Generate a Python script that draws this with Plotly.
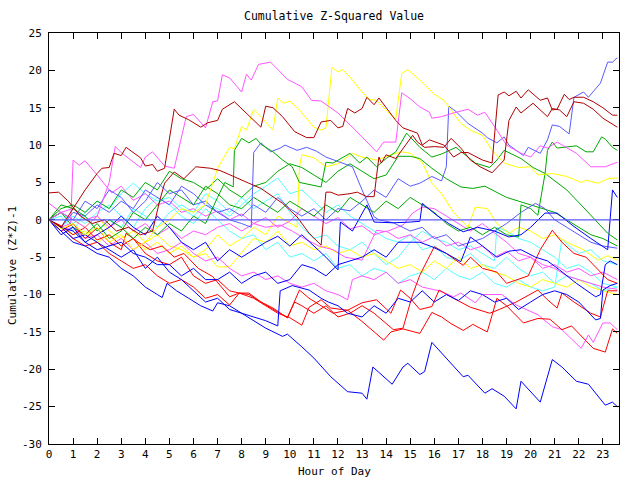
import plotly.graph_objects as go

# ---------------- data (hour, cumulative value) ----------------
HOUR_TICKS = [0, 1, 2, 3, 4, 5, 6, 7, 8, 9, 10, 11, 12, 13, 14, 15, 16, 17, 18, 19, 20, 21, 22, 23]
VALUE_TICKS = [-30, -25, -20, -15, -10, -5, 0, 5, 10, 15, 20, 25]
ZERO_LEVEL = 0

HALF = [0, 0.5, 1, 1.5, 2, 2.5, 3, 3.5, 4, 4.5, 5, 5.5, 6, 6.5, 7, 7.5, 8, 8.5, 9, 9.5,
        10, 10.5, 11, 11.5, 12, 12.5, 13, 13.5, 14, 14.5, 15, 15.5, 16, 16.5, 17, 17.5,
        18, 18.5, 19, 19.5, 20, 20.5, 21, 21.5, 22, 22.5, 23, 23.6]

M1_h = [0, 0.5, 1.0, 1.5, 2.0, 2.5, 2.75, 3.0, 3.8, 4.0, 4.3, 4.8, 5.2, 5.4, 5.7, 6.0, 6.5, 6.8, 7.0, 7.2,
        7.5, 8.0, 8.2, 8.4, 8.7, 9.2, 9.9, 10.5, 10.9, 11.3, 12.0, 13.0, 13.6, 13.9, 14.4, 14.65, 15.0, 15.4, 15.8, 15.9,
        16.3, 16.8, 17.4, 17.8, 18.1, 18.6, 19.0, 19.6, 20.0, 20.4, 20.7, 21.1, 21.9, 22.5, 23.1, 23.6]
M1_v = [0, 1.0, 0.0, -1.0, 0.5, 5.0, 9.8, 9.0, 7.0, 8.4, 9.1, 7.2, 6.9, 9.5, 13.8, 14.1, 12.3, 15.8, 15.9, 19.4,
        19.0, 17.1, 19.5, 18.7, 20.8, 21.1, 18.8, 17.8, 16.0, 15.9, 14.3, 11.1, 9.1, 10.4, 10.4, 17.0, 16.2, 15.1, 14.4, 13.6,
        13.8, 14.3, 14.8, 14.0, 14.4, 12.0, 10.0, 8.9, 8.4, 9.9, 9.6, 10.4, 8.9, 7.1, 7.1, 7.7]

M2_h = [0, 0.5, 0.9, 1.0, 1.25, 1.5, 2.0, 2.6, 3.0, 3.5, 4.0, 4.5, 5.0, 5.5, 6.0, 6.5, 7.0, 7.5, 8.0, 8.5,
        9.0, 9.5, 10.0, 10.5, 11.0, 11.5, 12.0, 12.5, 13.0, 13.5, 14.0, 14.5, 15.0, 15.5, 16.0, 16.5, 17.0, 17.5, 18.0, 18.5,
        19.0, 19.5, 20.0, 20.5, 21.0, 21.5, 22.0, 22.5, 23.0, 23.6]
M2_v = [0, -1, -0.5, 8.0, 7.3, 7.9, 6.0, 3.6, 4.5, 2.6, 3.5, 2.0, 2.5, 1.0, 1.5, 0.5, 1.2, 0.0, 0.8, -0.5,
        0.3, -1.0, -0.2, 1.5, 0.5, -0.5, 0.3, -1.2, -0.8, -2.0, -1.5, -2.5, -2.0, -3.0, -2.2, -3.5, -3.0, -4.0, -3.5, -5.0,
        -4.2, -5.5, -5.0, -6.5, -6.0, -7.0, -6.5, -7.5, -7.0, -8.0]

M3_h = [0, 0.5, 1, 1.5, 2, 2.5, 3, 3.5, 4, 4.5, 5, 5.5, 6, 6.5, 7, 7.5, 8, 8.5, 9, 9.5, 10, 10.5, 11, 11.5,
        12.0, 12.4, 12.6, 13.0, 13.5, 14.0, 14.5, 15.0, 15.5, 16.2, 16.8, 17.1, 17.7, 18.0, 18.8, 19.4, 20.3, 20.9,
        21.3, 22.1, 22.4, 22.6, 23.0, 23.3, 23.6]
M3_v = [0, -1.5, -1, -2.5, -2, -3.5, -2.5, -4, -3, -4.5, -4, -3, -4.5, -5.5, -5, -6.5, -7.5, -7, -8, -7.5, -8.5, -9, -8.5, -9.5,
        -10.0, -10.7, -8.0, -7.5, -8.0, -7.0, -8.5, -8.0, -9.0, -9.5, -10.3, -9.8, -11.1, -10.0, -10.0, -11.4, -12.7, -14.3,
        -14.7, -17.2, -15.4, -16.4, -13.8, -13.8, -14.7]

M4_h = [0, 0.5, 1, 1.5, 2, 2.5, 3, 3.5, 4, 4.5, 5, 5.5, 6, 6.5, 7, 7.5, 8, 8.5, 9, 9.6, 10.1, 10.6, 11.2, 11.8,
        12.3, 13.0, 13.6, 14.0, 14.7, 15.1, 15.5, 16.0, 16.5, 17.0, 17.5, 18.0, 18.5, 19.0, 19.5, 20.0, 20.5, 21.0,
        21.5, 22.0, 22.5, 23.0, 23.6]
M4_v = [2.2, 1.0, 1.5, 0, 0.5, -1, 0, -1.5, -0.5, -2, -1, -2.5, -1.5, -2, -1, -0.5, -1.5, -0.5, -1, -0.7, -1.5, -2.5, -3.5, -4,
        -5, -5.4, -1.4, -1.6, -0.7, 0.9, 1.7, 1.5, 0.5, -0.5, -1.5, -0.5, -1.8, -3, -4.5, -5, -6, -6.5,
        -7.5, -8, -8.5, -9, -9.3]

DR1_h = [0, 0.5, 1.0, 1.5, 2.0, 2.2, 2.5, 2.7, 3.0, 3.2, 3.8, 4.0, 4.3, 4.5, 4.8, 5.2, 5.4, 5.8, 6.3, 6.6,
         7.0, 7.2, 7.7, 8.3, 8.8, 9.0, 9.3, 9.7, 10.2, 10.7, 11.0, 11.3, 11.7, 12.0, 12.2, 12.4, 12.7, 13.0, 13.2, 13.5,
         13.7, 14.4, 14.7, 15.3, 15.5, 15.8, 16.4, 16.8, 17.1, 17.4, 18.0, 18.4, 18.65, 18.9, 19.1, 19.4, 19.6, 19.9, 20.4, 20.7,
         20.9, 21.1, 21.4, 21.6, 21.8, 22.2, 22.6, 23.0, 23.4, 23.6]
DR1_v = [0, -1.0, 1.5, 4.0, 6.2, 6.9, 7.0, 8.9, 8.6, 9.7, 8.3, 7.2, 7.4, 6.5, 6.9, 14.8, 14.0, 13.4, 12.4, 13.0,
         13.3, 14.8, 15.8, 14.0, 12.4, 15.2, 15.0, 13.8, 11.8, 11.0, 11.0, 13.1, 13.3, 12.3, 12.5, 14.9, 14.3, 14.9, 16.4, 15.4,
         16.3, 13.3, 12.3, 11.6, 10.0, 10.7, 10.0, 8.4, 9.0, 9.0, 8.0, 7.6, 16.7, 17.1, 16.6, 17.2, 16.3, 17.4, 16.0, 16.3,
         14.7, 14.8, 16.8, 16.1, 16.4, 16.4, 15.8, 15.0, 14.0, 14.0]

DR2_h = [0, 0.4, 0.8, 1.3, 1.8, 2.3, 2.8, 3.3, 3.8, 4.3, 4.6, 4.8, 5.2, 5.6, 6.1, 6.7, 7.1, 7.5, 8.3, 8.8,
         9.2, 9.7, 10.3, 10.8, 11.3, 11.5, 11.7, 12.0, 12.5, 12.8, 13.2, 13.5, 13.6, 13.7, 13.8, 14.0, 14.4, 14.6, 14.8, 15.1,
         15.3, 15.6, 16.0, 16.4, 16.7, 17.1, 17.5, 17.9, 18.4, 18.9, 19.1, 19.4, 19.6, 20.1, 20.7, 20.9, 21.2, 21.5, 21.8, 22.2,
         22.6, 23.0, 23.6]
DR2_v = [3.6, 3.7, 2.5, 0.5, -0.5, 0.0, -1.5, -1.0, -2.0, -1.5, 2.6, 4.9, 6.4, 5.5, 7.1, 6.9, 6.6, 6.0, 4.9, 4.2,
         3.3, 2.2, 0.4, -1.8, -3.4, 3.7, 3.7, 3.3, 3.5, 3.7, 3.1, 3.1, 5.8, 8.4, 7.6, 8.7, 8.2, 9.1, 10.0, 11.3,
         10.4, 9.7, 9.8, 9.7, 10.9, 9.6, 8.0, 7.1, 6.3, 8.0, 13.3, 15.1, 14.3, 15.6, 13.8, 14.9, 14.7, 13.8, 15.8, 15.6,
         14.8, 13.6, 12.4]

Y1_h = [0, 0.5, 1, 1.5, 2, 2.5, 3, 3.5, 4, 4.5, 5, 5.5, 6.0, 6.5, 7.0, 7.5, 7.7, 8.0, 8.2, 8.5,
        8.8, 9.3, 9.5, 9.75, 10.0, 10.4, 11.0, 11.3, 11.5, 11.75, 12.0, 12.2, 12.5, 13.0, 13.3, 13.6, 14.2, 14.4, 14.65, 14.9,
        15.4, 15.8, 16.0, 16.4, 17.1, 17.5, 18.0, 18.4, 18.9, 19.5, 20.0, 20.3, 20.9, 21.5, 22.1, 22.3, 22.8, 23.2, 23.6]
Y1_v = [0, -1.2, -0.5, -2, -1, -3, -2, -4, -3, -1, 0, 1.5, 1, 2, 6.9, 9.7, 9.5, 12.5, 12.0, 14.8,
        13.8, 12.0, 16.3, 15.6, 15.9, 14.7, 12.4, 12.0, 12.3, 20.4, 19.8, 20.1, 19.1, 17.1, 16.1, 16.0, 14.0, 13.5, 19.6, 20.1,
        18.7, 17.4, 16.8, 16.0, 12.9, 12.0, 11.3, 9.3, 7.6, 7.0, 7.1, 6.0, 6.2, 5.8, 5.0, 5.3, 4.9, 5.5, 5.6]

Y2_h = [0, 0.5, 1, 1.5, 2, 2.5, 3, 3.5, 4, 4.5, 5, 5.5, 6, 6.5, 7, 7.5, 8, 8.5, 9, 9.5,
        10.0, 10.3, 10.4, 10.5, 11.0, 11.5, 12.0, 12.6, 13.0, 13.6, 14.2, 14.65, 15.0, 15.5, 15.9, 16.3, 16.8, 17.4, 17.7, 18.2,
        18.6, 19.1, 19.5, 20.0, 20.5, 21.0, 21.5, 22.2, 22.8, 23.2, 23.6]
Y2_v = [0, -1, -2, -1.5, -3, -2, -3.5, -2.5, -4, -3, -4.5, -3.5, -5, -4, -2, -3.5, -2.5, -1, -2, 0.5,
        -0.5, -1.0, 7.1, 8.7, 8.3, 7.1, 7.5, 8.9, 8.4, 8.0, 8.7, 9.1, 8.9, 7.7, 4.9, 3.5, 1.0, -1.0, 1.7, 1.5,
        -0.5, -1.8, -1.0, -1.5, -2.5, -2.0, -3.0, -4.0, -5.4, -4.8, -5.4]

Y3_h = [0, 0.5, 1, 1.5, 2, 2.5, 3, 3.5, 4, 4.5, 5, 5.5, 6, 6.5, 7, 7.5, 8.1, 8.5, 9, 9.5, 10, 10.5, 11, 11.5,
        12, 12.5, 13, 13.5, 14, 14.5, 15, 15.5, 16, 16.5, 17, 17.5, 18, 18.5, 19, 19.5, 20, 20.5, 21, 21.5, 22, 22.5, 23, 23.6]
Y3_v = [0, 1, 0, -1, 0.5, -1.5, -2.5, -1.5, -3, -2, -3.5, -4, -5, -4.5, -6.3, -6.3, -4.0, -2.5, -3, -1.5, -3.5, -3, -4, -3.5,
        -4.5, -4, -5, -4.5, -5.5, -6.5, -6, -7, -5.5, -6.5, -5, -6.5, -6, -7, -7.5, -8.5, -9, -8, -8.5, -9, -8, -9, -9.5, -10]

B1_h = [0, 0.5, 1, 1.5, 2, 2.5, 3, 3.5, 4, 4.5, 4.7, 4.9, 5.3, 5.8, 6.3, 6.8, 7.0, 7.5, 8.0, 8.5,
        9.0, 9.7, 9.9, 10.5, 11.0, 11.7, 12.4, 13.0, 13.2, 13.45, 13.9, 14.25, 14.7, 14.9, 15.4, 15.6, 15.9, 16.5, 17.2, 17.4,
        18.1, 18.4, 18.9, 19.4, 19.6, 20.4, 20.9, 21.3, 21.9, 22.4, 23.1, 23.4, 23.6]
B1_v = [0, -1.5, -3, -3.5, -4.5, -5, -6.5, -7.5, -9, -10, -10.4, -8.5, -9.5, -10.5, -11.5, -12.2, -11.1, -11.5, -12.5, -13.5,
        -14.5, -15.6, -15.3, -17, -18.5, -21, -23, -23.2, -24, -19.7, -21, -22, -19.7, -19.2, -20.7, -20.3, -16.4, -18.5, -21, -20.8,
        -23.2, -22.6, -23.6, -25.3, -21.6, -24.4, -18.7, -19.7, -21.6, -22, -24.8, -24.4, -25]

B2_h = [0, 0.5, 1, 1.5, 2, 2.5, 3, 3.5, 4, 4.5, 5, 5.5, 6, 6.5, 7, 7.5, 8, 8.5, 9, 9.5,
        9.6, 10.1, 10.8, 11.3, 11.6, 12.0, 12.4, 13.0, 13.5, 14.0, 14.5, 15.0, 15.5, 16.0, 16.5, 17.0, 17.5, 18.0, 18.5, 19.0,
        19.5, 20.0, 20.5, 21.0, 21.5, 22.0, 22.7, 22.9, 23.0, 23.3, 23.6]
B2_v = [0, -1, -2.5, -2, -3, -4, -5, -4, -6.5, -5, -7, -8, -9.5, -11, -10.5, -12, -12.5, -13, -13.5, -14.2,
        -9.5, -8.8, -9.4, -10.5, -11, -11.5, -12.5, -13, -11.5, -12.5, -10.5, -11, -9.5, -11, -10, -10.8, -9.5, -10, -11, -10.5,
        -12, -11, -10, -9.5, -10, -11, -13.4, -13.2, -9.4, -8.8, -8.5]

B3_h = [0, 0.5, 1, 1.5, 2, 2.5, 3, 3.5, 4, 4.5, 5, 5.5, 6, 6.5, 7, 7.5, 8, 8.5, 9, 9.5, 10, 10.5, 11, 11.5,
        12.0, 12.1, 12.6, 13.2, 13.5, 14.3, 15.0, 15.4, 15.5, 16.1, 16.6, 17.2, 17.8, 18.5, 19.1, 19.6,
        20.0, 20.6, 21.1, 21.8, 22.5, 23.2, 23.4, 23.6]
B3_v = [0, -2, -1, -3, -2, -1, 0.5, -1, -2, 0.5, -1, -3, -4, -3, -5.5, -4, -5, -4, -3, -2.2, -3.5, -2, -3.5, -5,
        -6.7, -0.3, -1.5, 2.0, -0.3, -0.4, -0.3, -0.2, 2.2, 0.6, -0.5, -1.6, -1.0, -1.5, -2.3, -2.0,
        -1.0, 0.9, 0.9, -0.9, -2.5, -4.0, 4.0, 3.0]

B4_h = [0, 0.5, 1, 1.5, 2, 2.5, 3, 3.5, 4, 4.5, 5, 5.5, 6, 6.5, 7, 7.5, 8, 8.5, 9, 9.5, 10, 10.5, 11, 11.5,
        12, 12.5, 13, 13.5, 14, 14.5, 15.4, 15.9, 16.5, 17.1, 17.5, 18.0, 18.6, 19.1, 19.6, 20.2,
        20.7, 21.2, 21.9, 22.7, 22.9, 23.1, 23.3, 23.6]
B4_v = [0, -1, -1.5, -3, -4, -3.5, -3, -4.5, -5, -6, -6, -7.5, -6.5, -8, -8, -7, -8.5, -7.5, -7, -8.5, -8, -6, -6.5, -7.5,
        -6, -5.5, -5, -4, -5, -3, -3, -3.6, -4.5, -5.6, -2.3, -3.5, -5.0, -4.2, -4.0, -5.0,
        -5.5, -6.7, -8.5, -10.3, -10.0, -6.0, -5.5, -6.0]

LB1_h = [0, 0.5, 1, 1.5, 2, 2.5, 3, 3.5, 4, 4.5, 5, 5.5, 6, 6.5, 7, 7.5, 8, 8.5, 9, 9.5, 10, 10.5, 11, 11.5,
         12, 12.5, 13, 13.5, 14, 14.5, 15, 15.4, 15.9, 16.3, 16.5, 16.6, 16.9, 17.4, 18.0, 18.2,
         18.6, 18.9, 19.1, 19.7, 19.9, 20.2, 20.4, 20.7, 20.9, 21.2, 21.6, 21.8, 22.2, 22.4, 22.9, 23.2, 23.4, 23.6]
LB1_v = [0, 1, 0, 2.5, 1.5, 4, 3, 1, 2.5, 5, 3.5, 4, 2, 2.5, 1, 1.5, 0.5, 2, 1, 3, 1.5, 0.5, 1.5, 0,
         1.5, 1.2, 2.5, 4, 3, 5.5, 4.5, 4.9, 5.8, 5.2, 7.1, 15.2, 14.5, 12.9, 11.6, 11.0,
         10.3, 11.1, 10.0, 8.6, 9.7, 9.2, 8.9, 10.7, 12.7, 12.5, 11.5, 16.4, 17.1, 16.4, 18.3, 21.1, 21.1, 21.7]

LB2_h = [0, 0.5, 1, 1.5, 2, 2.5, 3, 3.5, 4, 4.5, 5, 5.5, 6, 6.5, 7, 7.5, 8, 8.4, 8.5, 8.8,
         9.2, 9.6, 9.8, 10.3, 10.7, 11.1, 11.5, 12.1, 12.6, 13.0, 13.5, 13.7, 14.3, 15.0, 15.5, 16.0, 16.5, 17.0, 17.5, 18.0,
         18.5, 19.0, 19.6, 20.2, 20.6, 21.0, 21.5, 22.0, 22.5, 23.0, 23.6]
LB2_v = [0, -1, 1, 0.5, 2, 1, 2.5, 1.5, 4, 3, 2, 4.5, 3.5, 2, 1, 0, -0.5, -1.0, 9.0, 10.3,
         9.1, 9.6, 10.0, 9.3, 9.7, 9.2, 8.4, 7.7, 7.1, 4.0, 0.4, 0.0, -0.4, -1.5, -1.0, -2.5, -2.0, -3.5, -3.0, -2.5,
         -1.5, -0.5, 1.0, 2.2, 1.5, 0.0, -1.0, -2.0, -3.0, -3.5, -3.8]

R1_h = [0, 0.5, 1, 1.5, 2.0, 2.5, 3, 3.2, 3.7, 4.2, 4.7, 5.2, 5.6, 6.2, 6.8, 7.5, 7.9, 8.3, 8.8, 9.3,
        9.9, 10.4, 10.8, 11.3, 11.8, 12.4, 13.0, 13.9, 14.2, 14.7, 15.4, 15.9, 16.3, 16.7, 17.2, 17.6, 18.2, 18.6, 19.0, 19.7,
        20.3, 20.8, 21.3, 21.7, 22.6, 23.1, 23.4, 23.6]
R1_v = [0, -1.5, -0.5, -2.5, -1.1, -3, -4, -1.8, -3, -4, -3.5, -5, -4.5, -6.5, -7.6, -10.3, -9.8, -9.8, -11.0, -11.8,
        -13.1, -9.4, -10.5, -11.5, -12.5, -12.1, -13.6, -16.1, -15.0, -14.6, -15.2, -12.4, -13.0, -13.9, -14.8, -14.0, -15.0, -10.5, -11.5, -13.8,
        -13.2, -13.3, -14.7, -14.2, -17.2, -17.7, -14.6, -15.2]

R2_h = [0, 0.5, 1, 1.5, 2, 2.5, 3, 3.5, 4, 4.5, 5, 5.5, 6, 6.5, 7, 7.5, 7.9, 8.5, 9, 9.5,
        10.0, 10.5, 10.8, 11.3, 11.7, 12.4, 13.0, 13.6, 14.2, 14.6, 15.0, 15.4, 15.9, 16.2, 16.8, 17.5, 18.3, 18.7, 19.4, 20.3,
        20.7, 21.1, 21.3, 21.8, 22.5, 22.9, 23.2, 23.6]
R2_v = [0, -0.8, -2, -1, -2.7, -2, -3.5, -2.5, -4.5, -5.5, -6, -5, -7.5, -8.5, -8, -9.5, -9.8, -10.5, -11.5, -12.5,
        -13.1, -14.1, -11.7, -10.7, -11.8, -12.1, -11.1, -10.7, -12.5, -9.4, -10.5, -12.0, -11.6, -9.4, -10.5, -11.7, -12.5, -12.0, -11.0, -9.4,
        -10.7, -11.8, -9.8, -11.0, -12.5, -13.0, -9.5, -9.5]

R3_h = [0, 0.5, 1, 1.5, 2, 2.5, 3, 3.5, 4, 4.5, 5, 5.5, 6, 6.5, 7, 7.5, 7.9, 8.3, 8.8, 9.3,
        9.9, 10.2, 10.5, 11, 11.5, 12, 12.5, 13, 13.5, 14.3, 14.7, 15.1, 15.4, 16.0, 16.5, 17.2, 17.5, 18, 18.6, 19.0,
        19.5, 19.9, 20.4, 20.9, 21.3, 21.8, 22.3, 23.2, 23.6]
R3_v = [0, -1, -2.5, -3.5, -3, -4.5, -5.5, -6.5, -6, -7.5, -8.5, -8, -9, -10.5, -10, -11.4, -9.8, -10.0, -11.0, -12,
        -13.1, -11, -11.5, -12.5, -11.5, -13, -12.5, -11.5, -12.5, -14.7, -14.5, -10, -7.4, -3.6, -4.5, -6.1, -5, -6.5, -7, -8.5,
        -8, -7.5, -4.0, -1.4, -3, -4.5, -5, -8.0, -8.5]

G1_h = [0, 0.5, 1, 1.5, 2, 2.5, 3, 3.5, 4, 4.5, 5, 5.5, 6, 6.5, 7, 7.3, 7.65, 7.7, 8.0, 8.3,
        8.6, 8.8, 9.3, 9.7, 10.1, 10.4, 11.3, 11.5, 11.8, 12.5, 12.9, 13.2, 13.6, 14.0, 14.4, 14.85, 15.4, 15.9, 16.3, 16.9,
        17.7, 18.3, 18.6, 18.9, 19.6, 20.1, 20.6, 21.5, 22.3, 23.2, 23.6]
G1_v = [0, 2, 1.5, 0.5, -1.5, 0, -1, -2.5, -1, -2, -0.5, -1.5, 0.5, -0.5, 3, 5, 4.4, 9.3, 10.9, 10.3,
        10.9, 10.1, 9.1, 8.0, 7.1, 5.0, 4.4, 7.7, 7.6, 8.9, 7.6, 8.4, 7.1, 8.2, 9.1, 11.6, 9.7, 8.4, 8.8, 9.7,
        7.6, 7.0, 8.0, 9.3, 8.2, 7.0, 6.2, 4.0, 1.3, -1.8, -2.7]

G2_h = [0, 0.5, 1, 1.5, 2, 2.5, 3, 3.5, 4, 4.5, 5, 5.5, 6, 6.5, 7, 7.5, 8, 8.5, 9, 9.5,
        10, 10.5, 11, 11.5, 12, 12.5, 13, 13.5, 14, 14.5, 15, 15.5, 16, 16.5, 17, 17.5, 18, 18.5, 19, 19.5,
        19.6, 20.0, 20.3, 20.6, 20.7, 20.9, 21.1, 21.9, 22.3, 22.6, 22.95, 23.1, 23.4, 23.6]
G2_v = [0, 1, -1, -2, -0.5, -2.5, -1.5, 1, 0, 2, 4, 3, 2, 4.5, 3.5, 2, 1.5, 3, 2, 1,
        2.5, 1.5, 0.5, 2, 1, 3, 2, 1, 2.5, 1.5, 3, 2, 1, -0.5, -1.5, -1, -2, -1, -2, -2.3,
        2.0, 1.5, 0.6, 6.2, 9.3, 10.4, 9.6, 9.9, 9.1, 9.1, 11.1, 10.8, 9.7, 9.3]

G3_h = [0, 0.5, 1, 1.5, 2, 2.5, 3, 3.5, 4, 4.5, 5, 5.5, 6, 6.5, 7, 7.5, 8, 8.5, 9, 9.5, 10, 10.5, 11, 11.5,
        12, 12.5, 13, 13.5, 14, 14.5, 15, 15.4, 15.9, 16.5, 17.1, 17.6, 18.1, 18.6, 19.0, 19.5, 20, 20.5, 21, 21.5,
        22, 22.5, 23, 23.6]
G3_v = [0, 1.5, 2, 1, 2.5, 1.5, 4, 3, 5, 4, 6.5, 5.5, 5, 4, 5.5, 4, 3, 4.5, 5, 6.5, 7.5, 7, 6, 5,
        6.5, 7.5, 6.5, 5.5, 6, 8.5, 8.5, 8.2, 6.9, 5.5, 4.4, 4.2, 4.5, 3.7, 3.0, 2.5, 2.0, 1.5, 1.0, 0,
        -1, -2, -2.5, -3.5]

C1_h = [0, 0.5, 1, 1.5, 2, 2.5, 3, 3.5, 4, 4.5, 5, 5.5, 6, 6.5, 7, 7.5, 8, 8.5, 9, 9.5,
        10, 10.5, 11, 11.5, 12, 12.5, 13, 13.5, 14, 14.5, 15, 15.5, 16, 16.5, 17, 17.5, 18, 18.5,
        18.6, 19, 19.5, 20, 20.5, 21, 21.5, 22, 22.5, 23, 23.6]
C1_v = [0, 1, -0.5, 0.5, -1.5, 0, -1, 1.5, 0.5, -1, 1, 2, 1, 3.5, 2.5, 1, 3, 1.5, 2.5, 3.5,
        1, -1, -2.5, -2, -3.5, -4, -3, -4.5, -6, -5, -3, -1.5, -2.5, -3, -4, -3.5, -4.5, -5.5,
        -1.0, -1.5, -2.5, -3, -4, -5, -6.5, -6, -7, -8.5, -9]

C2_h = [0, 0.5, 1, 1.5, 2, 2.5, 3, 3.5, 4, 4.5, 5, 5.5, 6, 6.5, 7, 7.5, 8, 8.5, 9, 9.5,
        10, 10.5, 11, 11.5, 12, 12.5, 13, 13.5, 14, 14.5, 15, 15.5, 16, 16.5, 17, 17.5, 18, 18.5, 19, 19.5,
        20, 20.5, 21, 21.3, 21.6, 22, 22.5, 23, 23.6]
C2_v = [0, -1, 0.5, -0.5, 1, 2, 0.5, -1, 1.5, 3, 2, 0.5, -0.5, 1.5, 0, -1.5, -2.5, -2, -4, -3,
        -5, -4.5, -5.5, -4.5, -6.5, -6, -7.5, -6.5, -7, -8.5, -7.5, -7, -8, -6.5, -7.5, -8, -7, -8.5, -9, -8,
        -9, -9.5, -9, -2.6, -3.5, -4.5, -4, -5.5, -6]

C3_h = HALF
C3_v = [0, 0.5, -1.5, 1, 2.5, 1.5, 3.5, 4.9, 3.5, 2.5, 3, 1.5, 0.5, 2, 1.5, 0.5, 2, 3.5, 4.5, 5.6,
        3.5, 4, 2.5, 1, 2, 0.5, -0.5, -1.5, -2.5, -3, -2, -4, -3.5, -5, -5.5, -4.5, -6, -6.5, -5, -6.5,
        -7.5, -7, -8.5, -7.5, -8, -8.5, -9.5, -9]

BLUE = "#0000ff"
LBLUE = "#5a5aff"
RED = "#ff0000"
DRED = "#b00000"
GREEN = "#00a800"
MAGENTA = "#ff55ff"
YELLOW = "#ffff00"
CYAN = "#55ffff"

series = [
    (C1_h, C1_v, CYAN), (C2_h, C2_v, CYAN), (C3_h, C3_v, CYAN),
    (Y3_h, Y3_v, YELLOW), (Y2_h, Y2_v, YELLOW),
    (M4_h, M4_v, MAGENTA), (M2_h, M2_v, MAGENTA), (M3_h, M3_v, MAGENTA),
    (G3_h, G3_v, GREEN), (G2_h, G2_v, GREEN),
    (LB2_h, LB2_v, LBLUE), (LB1_h, LB1_v, LBLUE),
    (R3_h, R3_v, RED), (R2_h, R2_v, RED), (R1_h, R1_v, RED),
    (B4_h, B4_v, BLUE), (B3_h, B3_v, BLUE), (B2_h, B2_v, BLUE), (B1_h, B1_v, BLUE),
    (G1_h, G1_v, GREEN), (Y1_h, Y1_v, YELLOW), (M1_h, M1_v, MAGENTA),
    (DR2_h, DR2_v, DRED), (DR1_h, DR1_v, DRED),
]

FONT = "DejaVu Sans Mono"

fig = go.Figure()
for h, v, col in series:
    n = min(len(h), len(v))
    fig.add_trace(go.Scatter(x=h[:n], y=v[:n], mode="lines",
                             line=dict(color=col, width=1),
                             showlegend=False, hoverinfo="skip"))

# horizontal reference line at zero, drawn above the walks
fig.add_hline(y=ZERO_LEVEL, line=dict(color=LBLUE, width=1.2), layer="above")

axis_common = dict(showgrid=False, showline=True, linecolor="black", linewidth=1,
                   mirror="allticks", ticks="inside", ticklen=6, tickcolor="black",
                   tickwidth=1, zeroline=False,
                   tickfont=dict(family=FONT, size=11, color="black"))

fig.update_layout(
    width=640, height=480,
    margin=dict(l=49, r=21, t=33, b=36, pad=0),
    paper_bgcolor="white", plot_bgcolor="white",
    font=dict(family=FONT, size=11, color="black"),
    xaxis=dict(range=[0, 23.67], tickmode="array", tickvals=HOUR_TICKS,
               ticktext=[str(t) for t in HOUR_TICKS], **axis_common),
    yaxis=dict(range=[-30, 25], tickmode="array", tickvals=VALUE_TICKS,
               ticktext=[str(t) for t in VALUE_TICKS], ticklabelstandoff=4, **axis_common),
    annotations=[
        dict(text="Cumulative Z-Squared Value", xref="paper", yref="paper",
             x=0.5, y=1 + 17 / 411, xanchor="center", yanchor="middle",
             showarrow=False, font=dict(family=FONT, size=11.5, color="black")),
        dict(text="Hour of Day", xref="paper", yref="paper",
             x=0.5, y=-27 / 411, xanchor="center", yanchor="middle",
             showarrow=False, font=dict(family=FONT, size=11, color="black")),
        dict(text="Cumulative (Z*Z)-1", xref="paper", yref="paper",
             x=-37 / 570, y=(444 - 266) / 411, xanchor="center", yanchor="middle",
             textangle=-90, showarrow=False, font=dict(family=FONT, size=11, color="black")),
    ],
)

fig.write_html("out.html")
